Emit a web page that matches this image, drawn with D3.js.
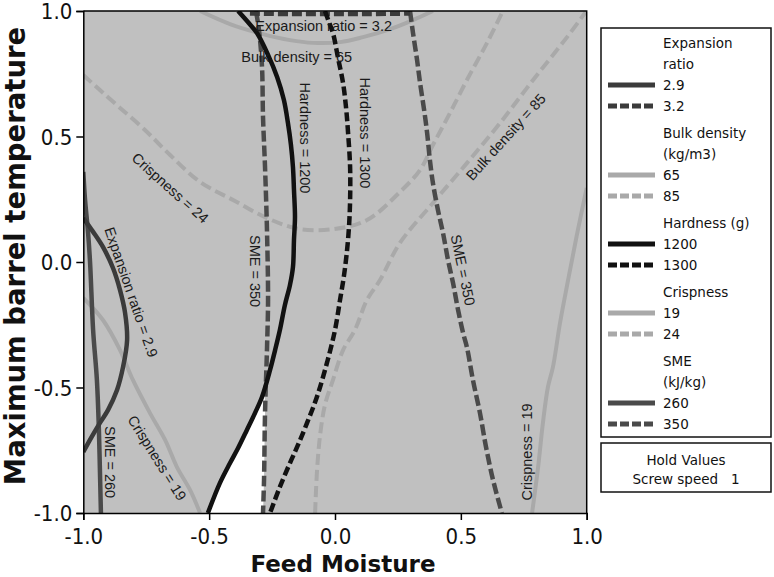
<!DOCTYPE html>
<html><head><meta charset="utf-8">
<script src="https://cdn.jsdelivr.net/npm/d3@7"></script>
<style>body{margin:0;background:#fff} svg{display:block}</style>
</head><body><svg id="c" width="774" height="577"></svg>
<script>
// ---------- data (design space coded units) ----------
const xTicks = [-1.0, -0.5, 0.0, 0.5, 1.0];
const yTicks = [-1.0, -0.5, 0.0, 0.5, 1.0];
const xTitle = "Feed Moisture";
const yTitle = "Maximum barrel temperature";

const expansion29 = [[-1.0,0.175],[-0.961,0.120],[-0.922,0.060],[-0.882,-0.024],[-0.854,-0.112],[-0.834,-0.203],[-0.826,-0.311],[-0.842,-0.418],[-0.866,-0.510],[-0.902,-0.590],[-0.934,-0.641],[-0.969,-0.701],[-1.0,-0.757]];
const expansion32 = [[-0.338,0.990],[-0.180,0.988],[-0.020,0.988],[0.140,0.988],[0.298,0.990]];
const bulk65 = [[-0.536,1.0],[-0.417,0.948],[-0.286,0.908],[-0.179,0.884],[-0.087,0.873],[0.020,0.876],[0.111,0.896],[0.219,0.928],[0.310,0.964],[0.389,1.0]];
const bulk85 = [[-0.079,-1.0],[-0.072,-0.841],[-0.060,-0.697],[-0.040,-0.570],[-0.008,-0.470],[0.032,-0.351],[0.079,-0.271],[0.127,-0.151],[0.179,-0.072],[0.258,0.076],[0.389,0.235],[0.524,0.394],[0.656,0.554],[0.787,0.725],[0.922,0.896],[0.995,0.995]];
const hardness1200 = [[-0.385,1.0],[-0.346,0.956],[-0.310,0.912],[-0.266,0.825],[-0.230,0.737],[-0.203,0.645],[-0.187,0.554],[-0.175,0.466],[-0.167,0.378],[-0.163,0.287],[-0.159,0.179],[-0.163,0.088],[-0.167,-0.020],[-0.179,-0.092],[-0.199,-0.171],[-0.219,-0.271],[-0.238,-0.351],[-0.258,-0.430],[-0.290,-0.538],[-0.318,-0.602],[-0.350,-0.669],[-0.385,-0.741],[-0.417,-0.801],[-0.457,-0.880],[-0.505,-1.0]];
const hardness1300 = [[-0.040,1.0],[-0.024,0.956],[-0.008,0.912],[0.012,0.813],[0.032,0.713],[0.044,0.614],[0.052,0.514],[0.060,0.378],[0.060,0.247],[0.056,0.147],[0.048,0.048],[0.036,-0.052],[0.020,-0.151],[0.0,-0.271],[-0.032,-0.402],[-0.072,-0.538],[-0.111,-0.641],[-0.147,-0.729],[-0.179,-0.801],[-0.219,-0.896],[-0.258,-1.0]];
const crisp19Left = [[-1.0,-0.143],[-0.922,-0.231],[-0.854,-0.351],[-0.803,-0.470],[-0.735,-0.602],[-0.675,-0.709],[-0.628,-0.817],[-0.576,-0.908],[-0.536,-1.0]];
const crisp19Right = [[0.783,-1.0],[0.807,-0.817],[0.826,-0.641],[0.846,-0.498],[0.866,-0.418],[0.894,-0.243],[0.926,-0.072],[0.961,0.108],[1.0,0.295]];
const crisp24 = [[-1.0,0.745],[-0.934,0.685],[-0.854,0.614],[-0.755,0.526],[-0.655,0.426],[-0.536,0.319],[-0.405,0.247],[-0.270,0.175],[-0.139,0.131],[-0.008,0.131],[0.127,0.167],[0.258,0.279],[0.338,0.367],[0.389,0.466],[0.457,0.594],[0.524,0.725],[0.604,0.873],[0.667,1.0]];
const sme260 = [[-1.0,0.359],[-0.993,0.247],[-0.981,0.116],[-0.973,-0.004],[-0.961,-0.271],[-0.946,-0.470],[-0.938,-0.669],[-0.934,-0.829],[-0.930,-1.0]];
const sme350Left = [[-0.314,1.0],[-0.302,0.924],[-0.290,0.777],[-0.286,0.578],[-0.278,0.378],[-0.270,0.116],[-0.266,-0.151],[-0.270,-0.339],[-0.278,-0.602],[-0.282,-0.869],[-0.286,-1.0]];
const sme350Right = [[0.298,1.0],[0.310,0.912],[0.326,0.805],[0.338,0.713],[0.354,0.606],[0.366,0.514],[0.377,0.406],[0.389,0.315],[0.409,0.207],[0.429,0.116],[0.449,0.008],[0.469,-0.084],[0.489,-0.191],[0.509,-0.283],[0.524,-0.339],[0.548,-0.470],[0.576,-0.602],[0.600,-0.737],[0.628,-0.869],[0.663,-1.0]];
const whiteApex = [-0.279,-0.51];

// contour labels: text, position in data units, rotation (deg)
const contourLabels = [
  {t:"Expansion ratio = 3.2", at:[-0.045,0.94], r:0},
  {t:"Bulk density = 65", at:[-0.152,0.815], r:0},
  {t:"Hardness = 1200", at:[-0.119,0.494], r:90},
  {t:"Hardness = 1300", at:[0.119,0.514], r:90},
  {t:"SME = 350", at:[-0.318,-0.036], r:90},
  {t:"SME = 350", at:[0.508,-0.032], r:78},
  {t:"Crispness = 24", at:[-0.655,0.295], r:42},
  {t:"Bulk density = 85", at:[0.679,0.498], r:-48},
  {t:"Expansion ratio = 2.9", at:[-0.810,-0.120], r:71},
  {t:"SME = 260", at:[-0.894,-0.797], r:90},
  {t:"Crispness = 19", at:[-0.707,-0.781], r:58},
  {t:"Crispness = 19", at:[0.763,-0.757], r:-90}
];

const legendGroups = [
  {title:["Expansion","ratio"], values:["2.9","3.2"], key:"exp"},
  {title:["Bulk density","(kg/m3)"], values:["65","85"], key:"bulk"},
  {title:["Hardness (g)"], values:["1200","1300"], key:"hard"},
  {title:["Crispness"], values:["19","24"], key:"crisp"},
  {title:["SME","(kJ/kg)"], values:["260","350"], key:"sme"}
];
const holdTitle = "Hold Values";
const holdText = "Screw speed   1";

// ---------- styles ----------
const styles = {
  exp:  {color:"#3b3b3b", w:4.5, dash:"10,4"},
  bulk: {color:"#a9a9a9", w:4,   dash:"11,5"},
  hard: {color:"#111111", w:4.5, dash:"9,4"},
  crisp:{color:"#a9a9a9", w:4,   dash:"11,5"},
  sme:  {color:"#4a4a4a", w:4.5, dash:"11,4"}
};

const svg = d3.select("#c");
const x = d3.scaleLinear().domain([-1,1]).range([83.3,586.7]);
const y = d3.scaleLinear().domain([-1,1]).range([513,11]);

svg.append("defs").append("clipPath").attr("id","clip")
  .append("rect").attr("x",x(-1)).attr("y",y(1)).attr("width",x(1)-x(-1)).attr("height",y(-1)-y(1));

svg.append("rect").attr("x",x(-1)).attr("y",y(1)).attr("width",x(1)-x(-1)).attr("height",y(-1)-y(1))
  .attr("fill","#c0c0c0");

const plot = svg.append("g").attr("clip-path","url(#clip)");

// feasible (white) region between Hardness 1200 and SME 350
const wr = hardness1200.filter(p=>p[1]<whiteApex[1]).reverse()
  .concat([whiteApex])
  .concat(sme350Left.filter(p=>p[1]<whiteApex[1]));
plot.append("path").attr("d", d3.line().x(d=>x(d[0])).y(d=>y(d[1]))(wr)+"Z").attr("fill","#ffffff");

const line = d3.line().x(d=>x(d[0])).y(d=>y(d[1])).curve(d3.curveCatmullRom.alpha(0.5));
function draw(data, key, dashed){
  const s = styles[key];
  plot.append("path").attr("d", line(data)).attr("fill","none")
    .attr("stroke", s.color).attr("stroke-width", s.w)
    .attr("stroke-dasharray", dashed ? s.dash : null);
}
draw(crisp19Left,"crisp",false);
draw(crisp19Right,"crisp",false);
draw(crisp24,"crisp",true);
draw(bulk65,"bulk",false);
draw(bulk85,"bulk",true);
draw(sme260,"sme",false);
draw(sme350Left,"sme",true);
draw(sme350Right,"sme",true);
draw(expansion29,"exp",false);
draw(expansion32,"exp",true);
draw(hardness1200,"hard",false);
draw(hardness1300,"hard",true);

// labels
svg.append("g").selectAll("text").data(contourLabels).join("text")
  .attr("transform", d=>`translate(${x(d.at[0])},${y(d.at[1])}) rotate(${d.r})`)
  .attr("text-anchor","middle").attr("dominant-baseline","central")
  .attr("font-family","'Liberation Sans', Arial, sans-serif").attr("font-size",14.5)
  .attr("fill","#1a1a1a").text(d=>d.t);

// frame
svg.append("path").attr("d",`M${x(-1)},${y(1)}H${x(1)}V${y(-1)}`).attr("fill","none").attr("stroke","#000").attr("stroke-width",1.5);

// axes
const fmt = d => d.toFixed(1);
const tickFont = "'DejaVu Sans Condensed', 'DejaVu Sans', Verdana, sans-serif";
const ax = svg.append("g").attr("transform",`translate(0,${y(-1)})`)
  .call(d3.axisBottom(x).tickValues(xTicks).tickFormat(fmt).tickSize(7).tickPadding(8));
const ay = svg.append("g").attr("transform",`translate(${x(-1)},0)`)
  .call(d3.axisLeft(y).tickValues(yTicks).tickFormat(fmt).tickSize(7).tickPadding(4));
[ax,ay].forEach(a=>{
  a.select(".domain").attr("stroke","#000").attr("stroke-width",1.5);
  a.selectAll(".tick line").attr("stroke","#000").attr("stroke-width",1.5);
  a.selectAll(".tick text").attr("font-family",tickFont).attr("font-stretch","condensed").attr("font-size",22).attr("fill","#111");
});
ay.selectAll(".tick text").attr("dy","0.36em");

svg.append("text").attr("x",343).attr("y",572).attr("text-anchor","middle")
  .attr("font-family","'DejaVu Sans', Verdana, sans-serif").attr("font-weight","bold").attr("font-size",23)
  .attr("fill","#111").text(xTitle);
svg.append("text").attr("transform","translate(25,256) rotate(-90)").attr("text-anchor","middle")
  .attr("font-family","'DejaVu Sans', Verdana, sans-serif").attr("font-weight","bold").attr("font-size",27.5)
  .attr("fill","#111").text(yTitle);

// legend
const lg = svg.append("g").attr("font-family","'DejaVu Sans', Verdana, sans-serif").attr("font-size",13.5).attr("fill","#111");
lg.append("rect").attr("x",601).attr("y",28).attr("width",170).attr("height",409).attr("fill","#fff").attr("stroke","#111").attr("stroke-width",1.5);
let cy = 43;
legendGroups.forEach(g=>{
  g.title.forEach(t=>{ lg.append("text").attr("x",663).attr("y",cy+5).text(t); cy+=21; });
  g.values.forEach((v,i)=>{
    const s = styles[g.key];
    lg.append("line").attr("x1",608).attr("x2",655).attr("y1",cy).attr("y2",cy)
      .attr("stroke",s.color).attr("stroke-width",5).attr("stroke-dasharray", i===1 ? "9,3" : null);
    lg.append("text").attr("x",663).attr("y",cy+5).text(v);
    cy+=21;
  });
  cy+=6;
});
lg.append("rect").attr("x",601).attr("y",443).attr("width",170).attr("height",49).attr("fill","#fff").attr("stroke","#111").attr("stroke-width",1.5);
lg.append("text").attr("x",686).attr("y",465).attr("text-anchor","middle").text(holdTitle);
lg.append("text").attr("x",686).attr("y",484).attr("text-anchor","middle").style("white-space","pre").text(holdText);
</script></body></html>
